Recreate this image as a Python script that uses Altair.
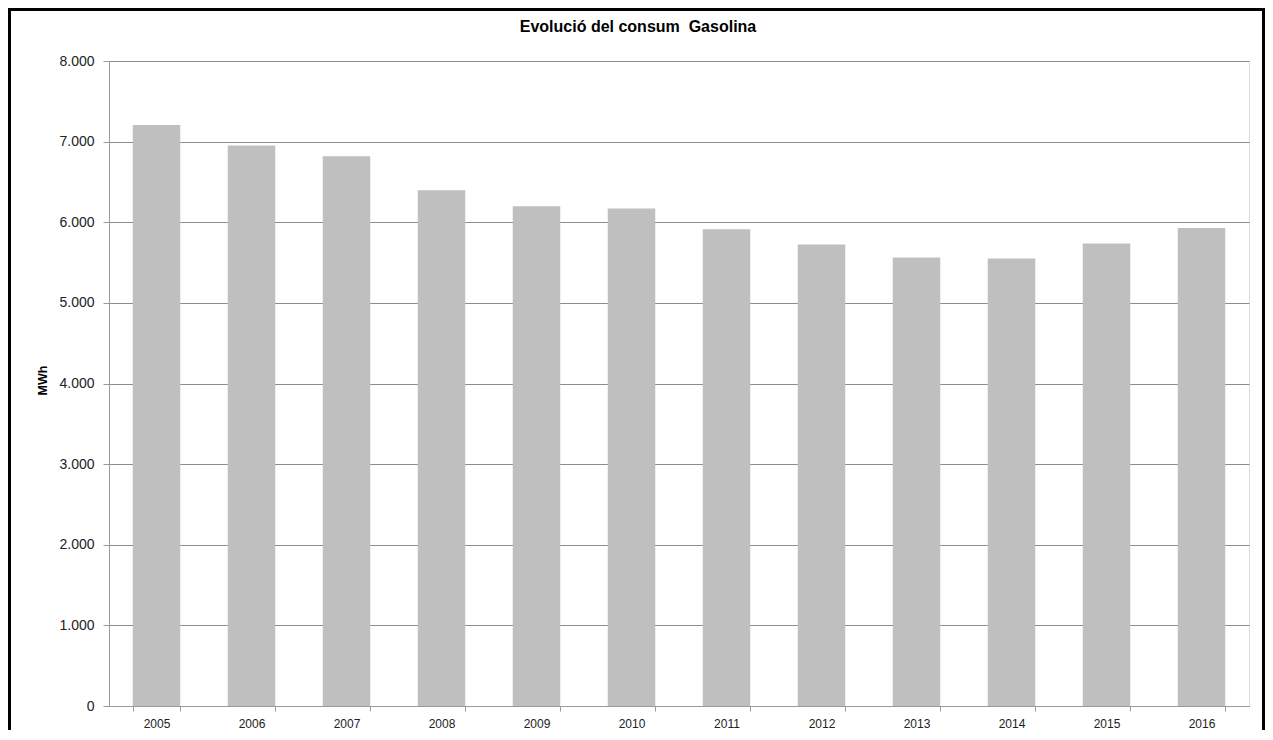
import altair as alt
import pandas as pd

years = ["2005", "2006", "2007", "2008", "2009", "2010",
         "2011", "2012", "2013", "2014", "2015", "2016"]
consum = [7205, 6952, 6820, 6398, 6200, 6170, 5914, 5724, 5562, 5550, 5736, 5930]

df = pd.DataFrame({"any": years, "MWh": consum})
one = pd.DataFrame({"k": [0]})

W, H = 1140, 645

bars = alt.Chart(df).mark_bar(color="#bfbfbf").encode(
    x=alt.X("any:N", sort=years, title=None,
            scale=alt.Scale(paddingInner=0.5, paddingOuter=0.25),
            axis=alt.Axis(labelAngle=0, tickBand="extent", tickSize=5,
                          labelPadding=7, labelFont="Liberation Sans",
                          labelFontSize=12, labelColor="#222222",
                          domainColor="#9a9a9a", tickColor="#9a9a9a",
                          grid=False)),
    y=alt.Y("MWh:Q", title="MWh",
            scale=alt.Scale(domain=[0, 8000], nice=False),
            axis=alt.Axis(values=[0, 1000, 2000, 3000, 4000, 5000, 6000, 7000, 8000],
                          labelExpr="replace(format(datum.value, ',d'), ',', '.')",
                          labelFont="Liberation Sans", labelFontSize=14,
                          labelColor="#222222", labelPadding=9, tickSize=6,
                          domainColor="#9a9a9a", tickColor="#9a9a9a",
                          gridColor="#8c8c8c", gridWidth=1,
                          titleFont="Liberation Sans", titleFontSize=12.5,
                          titleFontWeight="bold", titleColor="#000000",
                          titleX=-67, titleY=319, titleAngle=270,
                          titleBaseline="middle", titleAlign="center")),
)

frame_left = alt.Chart(one).mark_rule(color="#000000", strokeWidth=3).encode(
    x=alt.value(-99.5), y=alt.value(-51.5), y2=alt.value(H + 26))
frame_right = alt.Chart(one).mark_rule(color="#000000", strokeWidth=3).encode(
    x=alt.value(1154.5), y=alt.value(-51.5), y2=alt.value(H + 26))
frame_top = alt.Chart(one).mark_rule(color="#000000", strokeWidth=3).encode(
    x=alt.value(-101), x2=alt.value(1156), y=alt.value(-51.5))

chart = alt.layer(bars, frame_left, frame_right, frame_top).properties(
    width=W, height=H,
    title=alt.TitleParams("Evolució del consum\u00a0 Gasolina", anchor="middle",
                          font="Liberation Sans", fontSize=16, fontWeight="bold",
                          color="#000000", dx=-41, dy=31, frame="group"),
    autosize=alt.AutoSizeParams(type="none"),
    padding={"left": 101, "top": 53, "right": 16, "bottom": 24},
).configure_view(stroke=None).configure(background="#ffffff")

chart.save("out.html", embed_options={"renderer": "svg", "actions": False})
